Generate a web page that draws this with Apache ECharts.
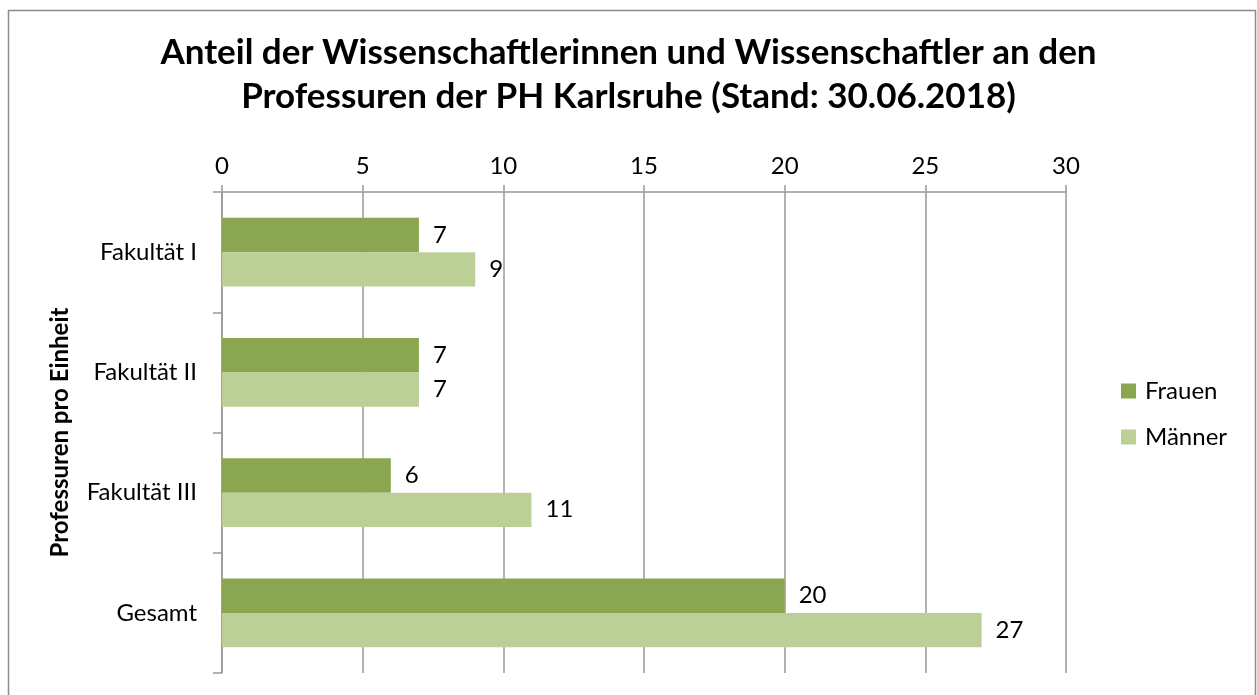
<!DOCTYPE html>
<html>
<head>
<meta charset="utf-8">
<script src="https://cdn.jsdelivr.net/npm/echarts@6/dist/echarts.min.js"></script>
<style>html,body{margin:0;padding:0;background:#fff;}#c{width:1257px;height:695px;}</style>
</head>
<body>
<div id="c"></div>
<script>
const titleText = 'Anteil der Wissenschaftlerinnen und Wissenschaftler an den\nProfessuren der PH Karlsruhe (Stand: 30.06.2018)';
const categories = ['Fakultät I', 'Fakultät II', 'Fakultät III', 'Gesamt'];
const frauen = [7, 7, 6, 20];
const maenner = [9, 7, 11, 27];
const seriesNames = ['Frauen', 'Männer'];
const axisName = 'Professuren pro Einheit';

const FONT = 'Lato';
const chart = echarts.init(document.getElementById('c'), null, {renderer: 'canvas'});
const labelCfg = {show: true, position: 'right', distance: 14, color: '#000', fontFamily: FONT, fontSize: 24};
chart.setOption({
  animation: false,
  backgroundColor: '#fff',
  graphic: [{
    type: 'rect', shape: {x: 8.5, y: 10.5, width: 1247, height: 700},
    style: {fill: 'none', stroke: '#8c8c8c', lineWidth: 1.5}, silent: true
  }],
  title: {
    text: titleText, left: 'center', top: 26,
    textStyle: {fontFamily: FONT, fontWeight: 'bold', fontSize: 35, color: '#000', lineHeight: 44}
  },
  legend: {
    orient: 'vertical', left: 1116, top: 374, itemGap: 22,
    itemWidth: 15, itemHeight: 15, icon: 'rect',
    textStyle: {fontFamily: FONT, fontSize: 24, color: '#000', padding: [0, 0, 0, 4]},
    data: seriesNames
  },
  grid: {left: 222, right: 191, top: 192, bottom: 22, containLabel: false},
  xAxis: {
    type: 'value', position: 'top', min: 0, max: 30, interval: 5,
    axisLine: {show: true, lineStyle: {color: '#999', width: 1.5}},
    axisTick: {show: true, length: 7, lineStyle: {color: '#999', width: 1.5}},
    axisLabel: {fontFamily: FONT, fontSize: 24, color: '#000', margin: 14},
    splitLine: {show: true, lineStyle: {color: '#999', width: 1.5}}
  },
  yAxis: {
    type: 'category', inverse: true, data: categories,
    name: axisName, nameLocation: 'middle', nameGap: 150, nameRotate: 90,
    nameTextStyle: {fontFamily: FONT, fontWeight: 'bold', fontSize: 24, color: '#000'},
    axisLine: {show: true, lineStyle: {color: '#999', width: 1.5}},
    axisTick: {show: true, length: 9, lineStyle: {color: '#999', width: 1.5}},
    axisLabel: {fontFamily: FONT, fontSize: 24, color: '#000', margin: 25}
  },
  series: [
    {name: seriesNames[0], type: 'bar', data: frauen, barGap: '0%', barCategoryGap: '43%',
     itemStyle: {color: '#8aa650'}, label: labelCfg},
    {name: seriesNames[1], type: 'bar', data: maenner, barGap: '0%', barCategoryGap: '43%',
     itemStyle: {color: '#bbcf97'}, label: labelCfg}
  ]
});
</script>
</body>
</html>
